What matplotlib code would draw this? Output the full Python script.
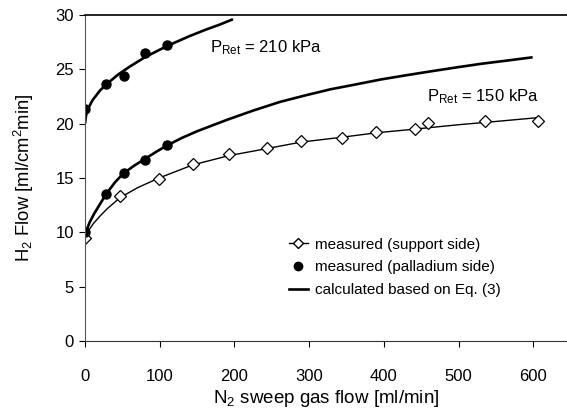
import matplotlib.pyplot as plt
from matplotlib.lines import Line2D

plt.rcParams['font.family'] = ['Liberation Sans', 'DejaVu Sans']
plt.rcParams['mathtext.fontset'] = 'custom'
plt.rcParams['mathtext.rm'] = 'Liberation Sans'
plt.rcParams['mathtext.it'] = 'Liberation Sans:italic'

# measured, support side (diamonds)
support_x = [0, 47, 99, 144, 193, 243, 289, 344, 390, 441, 459, 535, 606]
support_y = [9.5, 13.3, 14.9, 16.25, 17.2, 17.8, 18.4, 18.7, 19.2, 19.5, 20.1, 20.2, 20.25]

# measured, palladium side (filled circles), 150 kPa and 210 kPa
pd150_x = [0, 28, 52, 80, 110]
pd150_y = [10.0, 13.5, 15.45, 16.7, 18.06]
pd210_x = [0, 28, 52, 80, 110]
pd210_y = [21.3, 23.6, 24.4, 26.5, 27.2]

# curve through support side points
supfit_x = [0, 5, 11, 20, 30, 47, 70, 99, 144, 192, 243, 289, 344, 389, 442, 500, 550, 606]
supfit_y = [9.6, 10.2, 10.8, 11.5, 12.2, 13.2, 14.1, 15.0, 16.2, 17.05, 17.7, 18.3, 18.75, 19.15, 19.5, 19.9, 20.2, 20.55]

# calculated, Eq. (3)
calc150_x = [0, 2, 6, 12, 20, 28, 40, 51, 65, 80, 95, 110, 130, 150, 190, 225, 261, 295, 328, 362, 395, 430, 462, 500, 530, 565, 599]
calc150_y = [9.8, 10.2, 10.9, 11.7, 12.6, 13.5, 14.6, 15.4, 16.1, 16.75, 17.4, 18.0, 18.7, 19.3, 20.35, 21.2, 22.0, 22.6, 23.15, 23.6, 24.05, 24.45, 24.8, 25.2, 25.5, 25.8, 26.1]
calc210_x = [0, 1, 2, 5, 10, 20, 30, 45, 60, 80, 100, 120, 140, 160, 180, 198]
calc210_y = [20.0, 20.6, 20.95, 21.5, 22.15, 23.05, 23.7, 24.55, 25.25, 26.1, 26.8, 27.45, 28.05, 28.6, 29.1, 29.6]

fig = plt.figure(figsize=(5.67, 4.13), dpi=100)
ax = fig.add_axes([0.15, 0.174, 0.85, 0.79])

ax.plot(calc150_x, calc150_y, color='black', lw=1.9, solid_capstyle='butt')
ax.plot(calc210_x, calc210_y, color='black', lw=1.9, solid_capstyle='butt')
ax.plot(supfit_x, supfit_y, color='black', lw=1.0)
ax.plot(support_x, support_y, ls='none', marker='D', markersize=6,
        markerfacecolor='white', markeredgecolor='black', markeredgewidth=0.9)
ax.plot(pd150_x, pd150_y, ls='none', marker='o', markersize=6.5, color='black')
ax.plot(pd210_x, pd210_y, ls='none', marker='o', markersize=6.5, color='black')

ax.text(167, 27.0, r'P$_{\mathrm{Ret}}$ = 210 kPa', fontsize=12, va='center')
ax.text(458, 22.5, r'P$_{\mathrm{Ret}}$ = 150 kPa', fontsize=12, va='center')

ax.set_xlim(0, 645)
ax.set_ylim(0, 30)
ax.set_xticks([0, 100, 200, 300, 400, 500, 600])
ax.set_yticks([0, 5, 10, 15, 20, 25, 30])
ax.tick_params(labelsize=12, length=4, width=0.8, direction='out', pad=4)
ax.tick_params(axis='x', pad=16)
ax.spines['right'].set_visible(False)
ax.spines['left'].set_color('#555555')
ax.spines['bottom'].set_color('#333333')
ax.spines['top'].set_linewidth(1.2)

ax.set_xlabel(r'N$_2$ sweep gas flow [ml/min]', fontsize=13.5, labelpad=3)
ax.set_ylabel(r'H$_2$ Flow [ml/cm$^2$min]', fontsize=13.3, labelpad=14)

handles = [
    Line2D([], [], color='black', lw=1.0, marker='D', markersize=5,
           markerfacecolor='white', markeredgecolor='black'),
    Line2D([], [], ls='none', marker='o', markersize=6, color='black'),
    Line2D([], [], color='black', lw=1.9),
]
labels = ['measured (support side)', 'measured (palladium side)',
          'calculated based on Eq. (3)']
ax.legend(handles, labels, loc='upper left', bbox_to_anchor=(0.423, 0.317),
          frameon=False, fontsize=11, handlelength=1.25, handletextpad=0.45,
          labelspacing=0.57, borderpad=0, borderaxespad=0)

fig.savefig('out.png', dpi=100)
